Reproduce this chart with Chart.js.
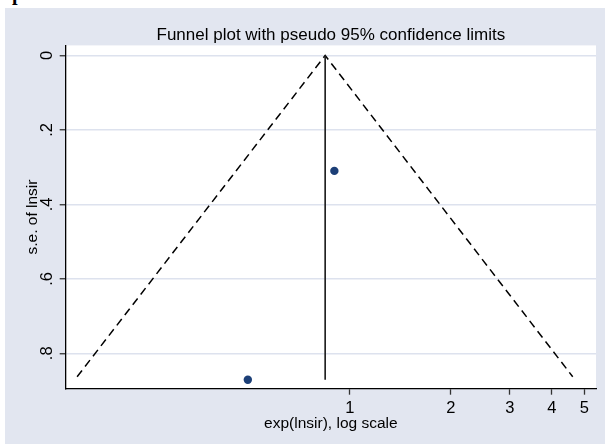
<!DOCTYPE html>
<html>
<head>
<meta charset="utf-8">
<title>Funnel plot</title>
<script src="https://cdn.jsdelivr.net/npm/chart.js@4.4.1/dist/chart.umd.min.js"></script>
<style>
    html, body { margin: 0; padding: 0; background: #fff; }
    #wrap { position: relative; width: 605px; height: 444px; overflow: hidden; }
    #frame { position: absolute; left: 5px; top: 8px; right: 0; bottom: 0; background: #e2e6f0; }
    #cut { position: absolute; left: 12px; top: -18px; font: bold 20px "Liberation Serif"; color: #000; }
    canvas { position: absolute; left: 0; top: 0; }
</style>
</head>
<body>
<div id="wrap">
    <div id="cut">p</div>
    <div id="frame"></div>
    <canvas id="funnelChart" width="605" height="444"></canvas>
</div>
<script>
// Valores
const xTicks = [1, 2, 3, 4, 5];
const yTicks = [0, 0.2, 0.4, 0.6, 0.8];
const yTickLabels = ['0', '.2', '.4', '.6', '.8'];

// estudos (exp(lnsir), s.e.)
const studyRatio = [0.90, 0.497];
const studySe = [0.310, 0.871];

// estimativa combinada e limites de 95%
const pooledX = [0.845, 0.845];
const pooledY = [0, 0.871];
const funnelX = [0.154, 0.845, 4.62];
const funnelY = [0.863, 0, 0.863];

const FONT = 'Liberation Sans, Arial, sans-serif';

function toPoints(xs, ys) {
    return xs.map((x, i) => ({ x: x, y: ys[i] }));
}

// Fundo branco da área do gráfico
const plotBg = {
    id: 'plotBg',
    beforeDraw(chart) {
        const { ctx, chartArea: a } = chart;
        ctx.save();
        ctx.fillStyle = '#fff';
        ctx.fillRect(a.left, a.top, a.right - a.left, a.bottom - a.top);
        ctx.restore();
    }
};

new Chart(document.getElementById('funnelChart'), {
    type: 'scatter',
    data: {
        datasets: [{
            data: toPoints(studyRatio, studySe),
            pointRadius: 4.2,
            pointHoverRadius: 4.2,
            backgroundColor: '#1c3f77',
            borderWidth: 0
        }, {
            data: toPoints(pooledX, pooledY),
            showLine: true,
            borderColor: '#222',
            borderWidth: 1.7,
            pointRadius: 0
        }, {
            data: toPoints(funnelX, funnelY),
            showLine: true,
            borderColor: '#000',
            borderWidth: 1.5,
            borderDash: [8, 5],
            pointRadius: 0
        }]
    },
    options: {
        responsive: false,
        animation: false,
        layout: { padding: { left: 0, right: 9, top: 0, bottom: 0 } },
        plugins: {
            legend: { display: false },
            tooltip: { enabled: false },
            title: {
                display: true,
                text: 'Funnel plot with pseudo 95% confidence limits',
                fullSize: false,
                color: '#000',
                font: { family: FONT, size: 17, weight: 'normal' },
                padding: { top: 25, bottom: 0 }
            }
        },
        scales: {
            x: {
                type: 'logarithmic',
                min: 0.1424,
                max: 5.42,
                afterBuildTicks: s => { s.ticks = xTicks.map(v => ({ value: v })); },
                afterFit: s => { s.height = 55.3; },
                ticks: {
                    autoSkip: false,
                    maxRotation: 0,
                    padding: 4,
                    color: '#000',
                    font: { family: FONT, size: 16.5 },
                    callback: v => String(v)
                },
                grid: { drawOnChartArea: false, tickLength: 6, tickColor: '#333', tickWidth: 1.3 },
                border: { color: '#000', width: 1.3 },
                title: {
                    display: true,
                    text: 'exp(lnsir), log scale',
                    color: '#000',
                    font: { family: FONT, size: 15.5 },
                    padding: { top: 0, bottom: 11 }
                }
            },
            y: {
                type: 'linear',
                reverse: true,
                min: -0.027,
                max: 0.895,
                afterBuildTicks: s => { s.ticks = yTicks.map(v => ({ value: v })); },
                afterFit: s => { s.width = 65.7; },
                ticks: {
                    minRotation: 90,
                    maxRotation: 90,
                    crossAlign: 'center',
                    padding: 5,
                    color: '#000',
                    font: { family: FONT, size: 16.5 },
                    callback: v => yTickLabels[yTicks.indexOf(v)]
                },
                grid: { color: '#dde2ee', lineWidth: 1.5, tickLength: 6, tickColor: '#333', tickWidth: 1.3 },
                border: { color: '#000', width: 1.3 },
                title: {
                    display: true,
                    text: 's.e. of lnsir',
                    color: '#000',
                    font: { family: FONT, size: 15.5 },
                    padding: { top: 23, bottom: 0 }
                }
            }
        }
    },
    plugins: [plotBg]
});
</script>
</body>
</html>
